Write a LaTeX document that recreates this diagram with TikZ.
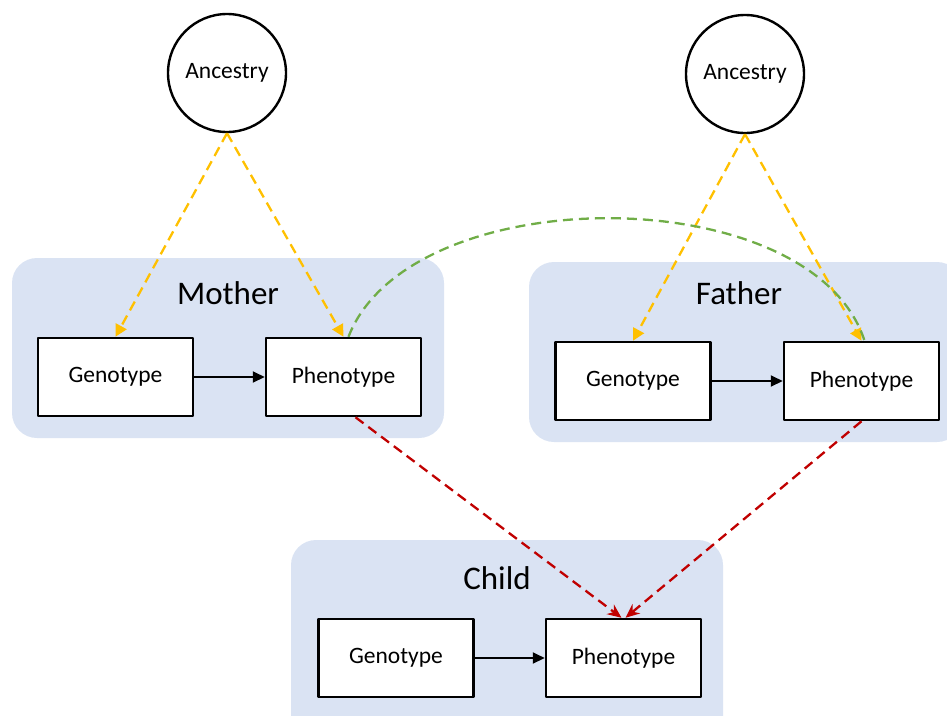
\documentclass[tikz,border=0pt]{standalone}
\usepackage{fontspec}
\setmainfont{Carlito}
\usetikzlibrary{arrows.meta}
\definecolor{groupblue}{RGB}{218,227,243}
\definecolor{ancyellow}{RGB}{255,192,0}
\definecolor{mategreen}{RGB}{112,173,71}
\definecolor{passred}{RGB}{192,0,0}
\begin{document}
\begin{tikzpicture}[x=1pt, y=-1pt, line join=round, >={Triangle[length=12pt,width=11pt]},
	famgroup/.style={fill=groupblue, rounded corners=25pt},
	famtitle/.style={font=\fontsize{33}{40}\selectfont},
	trait/.style={draw, line width=2.5pt, fill=white, minimum width=155pt, minimum height=78pt, inner sep=0pt, font=\fontsize{23.5}{28}\selectfont},
	anc/.style={circle, draw, line width=2.4pt, minimum size=118pt, inner sep=0pt, font=\fontsize{23.5}{28}\selectfont},
	inherit/.style={ancyellow, line width=2.3pt, dash pattern=on 10pt off 6pt, -{Triangle[length=12pt,width=12pt]}},
	pass/.style={passred, line width=2.3pt, dash pattern=on 10pt off 6pt, -{Stealth[length=14pt,width=12pt]}},
	mate/.style={mategreen, line width=2.3pt, dash pattern=on 10pt off 6pt}]
	\useasboundingbox (0,0) rectangle (947,715);
	% family groups
	\fill[famgroup] (12,258) rectangle (444,438);
	\fill[famgroup] (529,262) rectangle (962,442);
	\fill[famgroup] (291,540) rectangle (723,745);
	\node[famtitle] (mom-T) at (228,293) {Mother};
	\node[famtitle] (dad-T) at (739,293) {Father};
	\node[famtitle] (kid-T) at (497,578) {Child};
	% ancestry
	\node[anc] (ancM) at (227,73) {Ancestry};
	\node[anc] (ancF) at (745,74) {Ancestry};
	% traits
	\node[trait] (mom-G) at (115.5,377) {Genotype};
	\node[trait] (mom-P) at (343.5,377) {Phenotype};
	\node[trait] (dad-G) at (633,381) {Genotype};
	\node[trait] (dad-P) at (861.5,381) {Phenotype};
	\node[trait] (kid-G) at (396,658) {Genotype};
	\node[trait] (kid-P) at (623.5,658) {Phenotype};
	\foreach \p in {mom,dad,kid}{\draw[->, line width=2pt] (\p-G) -- (\p-P);}
	\foreach \s/\t in {ancM/mom-G, ancM/mom-P, ancF/dad-G, ancF/dad-P}{\draw[inherit] (\s.south) -- (\t.north);}
	\draw[mate] ([xshift=5pt]mom-P.north) .. controls (410,178) and (812,178) .. ([xshift=3pt]dad-P.north);
	\draw[pass] ([xshift=12pt]mom-P.south) -- ([xshift=-2pt]kid-P.north);
	\draw[pass] (dad-P.south) -- ([xshift=2pt]kid-P.north);
\end{tikzpicture}
\end{document}
